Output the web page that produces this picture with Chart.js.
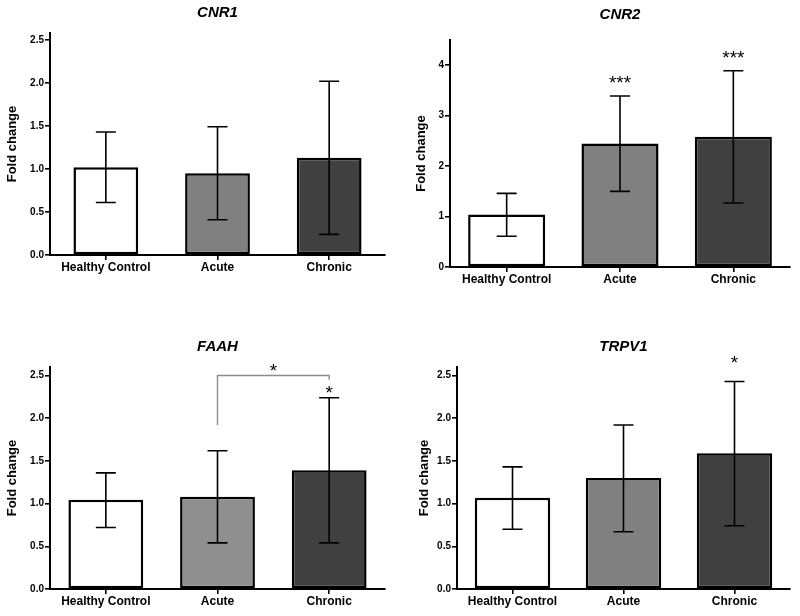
<!DOCTYPE html>
<html>
<head>
<meta charset="utf-8">
<script src="https://cdn.jsdelivr.net/npm/chart.js@4.4.1/dist/chart.umd.min.js"></script>
<style>
body { margin: 0; background: #fff; }
#wrap { position: relative; width: 800px; height: 616px; overflow: hidden; }
#wrap canvas { position: absolute; }
</style>
</head>
<body>
<div id="wrap">
  <canvas id="cnr1" width="400" height="300" style="left:0;top:0"></canvas>
  <canvas id="cnr2" width="400" height="300" style="left:400px;top:0"></canvas>
  <canvas id="faah" width="400" height="308" style="left:0;top:308px"></canvas>
  <canvas id="trpv1" width="400" height="308" style="left:400px;top:308px"></canvas>
</div>
<script>
const groups = ['Healthy Control', 'Acute', 'Chronic'];

// mean fold change and error bar ends
const cnr1Mean = [1.02, 0.95, 1.13];
const cnr1Low = [0.61, 0.41, 0.24];
const cnr1High = [1.43, 1.49, 2.02];

const cnr2Mean = [1.04, 2.45, 2.58];
const cnr2Low = [0.61, 1.50, 1.27];
const cnr2High = [1.46, 3.39, 3.89];
const cnr2Stars = ['', '***', '***'];
const cnr2StarAt = [null, 3.71, 4.21];

const faahMean = [1.045, 1.08, 1.39];
const faahLow = [0.72, 0.54, 0.54];
const faahHigh = [1.36, 1.62, 2.24];
const faahStars = ['', '', '*'];
const faahStarAt = [null, null, 2.33];
// acute end, top line, chronic end of the Acute vs Chronic bracket
const faahBracket = [1.92, 2.5, 2.45];
const faahBracketStar = '*';
const faahBracketStarAt = 2.59;

const trpv1Mean = [1.07, 1.30, 1.59];
const trpv1Low = [0.70, 0.67, 0.74];
const trpv1High = [1.43, 1.92, 2.43];
const trpv1Stars = ['', '', '*'];
const trpv1StarAt = [null, null, 2.68];

const FONT = "'Liberation Sans', Arial, Helvetica, sans-serif";

// draws error bars, significance marks and the panel title
function extras(title, titleY, low, high, stars, starAt, bracket) {
    return {
        id: 'extras',
        afterDatasetsDraw(chart) {
            const ctx = chart.ctx;
            const y = chart.scales.y;
            const bars = chart.getDatasetMeta(0).data;
            ctx.save();
            ctx.strokeStyle = '#000';
            ctx.lineWidth = 1.6;
            bars.forEach((bar, i) => {
                const top = y.getPixelForValue(high[i]);
                const bot = y.getPixelForValue(low[i]);
                ctx.beginPath();
                ctx.moveTo(bar.x, top); ctx.lineTo(bar.x, bot);
                ctx.moveTo(bar.x - 10, top); ctx.lineTo(bar.x + 10, top);
                ctx.moveTo(bar.x - 10, bot); ctx.lineTo(bar.x + 10, bot);
                ctx.stroke();
            });

            ctx.fillStyle = '#000';
            ctx.font = '19px ' + FONT;
            ctx.textAlign = 'center';
            ctx.textBaseline = 'middle';
            if (stars) {
                bars.forEach((bar, i) => {
                    if (stars[i]) ctx.fillText(stars[i], bar.x, y.getPixelForValue(starAt[i]) + 4);
                });
            }

            if (bracket) {
                const x1 = bars[1].x, x2 = bars[2].x;
                ctx.strokeStyle = '#8c8c8c';
                ctx.lineWidth = 1.4;
                ctx.beginPath();
                ctx.moveTo(x1, y.getPixelForValue(bracket.ends[0]));
                ctx.lineTo(x1, y.getPixelForValue(bracket.ends[1]));
                ctx.lineTo(x2, y.getPixelForValue(bracket.ends[1]));
                ctx.lineTo(x2, y.getPixelForValue(bracket.ends[2]));
                ctx.stroke();
                ctx.fillText(bracket.label, (x1 + x2) / 2, y.getPixelForValue(bracket.at) + 4);
            }

            const area = chart.chartArea;
            ctx.font = 'italic bold 15px ' + FONT;
            ctx.fillText(title, (area.left + area.right) / 2, titleY);
            ctx.restore();
        }
    };
}

function createPanel(id, cfg) {
    const el = document.getElementById(id);
    new Chart(el, {
        type: 'bar',
        data: {
            labels: groups,
            datasets: [{
                data: cfg.mean,
                backgroundColor: cfg.colors,
                borderColor: '#000',
                borderWidth: 2.5,
                borderSkipped: false,
                barPercentage: cfg.barPct,
                categoryPercentage: 1
            }]
        },
        options: {
            responsive: false,
            animation: false,
            layout: { padding: { top: cfg.top, right: cfg.right, left: 0, bottom: 0 } },
            plugins: { legend: { display: false }, tooltip: { enabled: false }, title: { display: false } },
            scales: {
                x: {
                    grid: { offset: false, drawOnChartArea: false, tickLength: 5, color: '#000', lineWidth: 1.6 },
                    border: { display: true, color: '#000', width: 2 },
                    ticks: { color: '#000', padding: 0, font: { family: FONT, size: 12, weight: 'bold' } },
                    afterFit: s => { s.height = cfg.bottom; }
                },
                y: {
                    min: 0,
                    max: cfg.max,
                    grid: { drawOnChartArea: false, tickLength: 5, color: '#000', lineWidth: 1.6 },
                    border: { display: true, color: '#000', width: 2 },
                    ticks: {
                        stepSize: cfg.step,
                        includeBounds: false,
                        color: '#000',
                        padding: 1,
                        font: { family: FONT, size: 10, weight: 'bold' },
                        callback: v => v.toFixed(cfg.decimals)
                    },
                    title: {
                        display: true,
                        text: 'Fold change',
                        color: '#000',
                        padding: { top: cfg.titlePad, bottom: 0 },
                        font: { family: FONT, size: 13, weight: 'bold' }
                    },
                    afterFit: s => { s.width = cfg.left; }
                }
            }
        },
        plugins: [extras(cfg.title, cfg.titleY, cfg.low, cfg.high, cfg.stars, cfg.starAt, cfg.bracket)]
    });
}

createPanel('cnr1', {
    title: 'CNR1', titleY: 13, mean: cnr1Mean, low: cnr1Low, high: cnr1High,
    colors: ['#ffffff', '#808080', '#404040'], barPct: 0.58,
    max: 2.58, step: 0.5, decimals: 1,
    top: 33, bottom: 45, left: 50, right: 15, titlePad: 5
});

createPanel('cnr2', {
    title: 'CNR2', titleY: 15, mean: cnr2Mean, low: cnr2Low, high: cnr2High,
    stars: cnr2Stars, starAt: cnr2StarAt,
    colors: ['#ffffff', '#808080', '#404040'], barPct: 0.68,
    max: 4.5, step: 1, decimals: 0,
    top: 40, bottom: 33, left: 50, right: 10, titlePad: 14
});

createPanel('faah', {
    title: 'FAAH', titleY: 39, mean: faahMean, low: faahLow, high: faahHigh,
    stars: faahStars, starAt: faahStarAt,
    bracket: { ends: faahBracket, label: faahBracketStar, at: faahBracketStarAt },
    colors: ['#ffffff', '#8f8f8f', '#404040'], barPct: 0.67,
    max: 2.6, step: 0.5, decimals: 1,
    top: 59, bottom: 27, left: 50, right: 15, titlePad: 5
});

createPanel('trpv1', {
    title: 'TRPV1', titleY: 39, mean: trpv1Mean, low: trpv1Low, high: trpv1High,
    stars: trpv1Stars, starAt: trpv1StarAt,
    colors: ['#ffffff', '#808080', '#404040'], barPct: 0.68,
    max: 2.6, step: 0.5, decimals: 1,
    top: 59, bottom: 27, left: 57, right: 10, titlePad: 17
});
</script>
</body>
</html>
